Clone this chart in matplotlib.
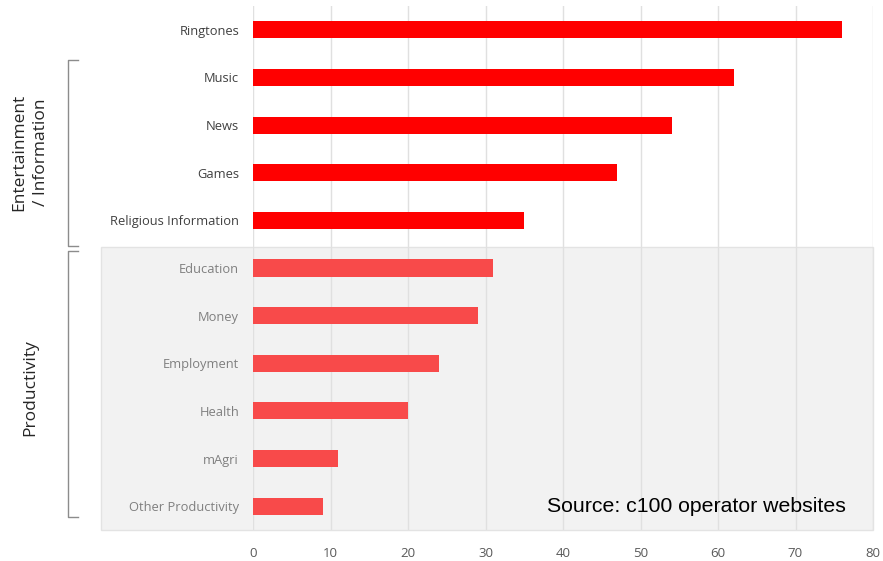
import matplotlib.pyplot as plt
from matplotlib.patches import Rectangle
from matplotlib.lines import Line2D

categories = ['Ringtones', 'Music', 'News', 'Games', 'Religious Information',
              'Education', 'Money', 'Employment', 'Health', 'mAgri', 'Other Productivity']
values = [76, 62, 54, 47, 35, 31, 29, 24, 20, 11, 9]
groups = ['ent', 'ent', 'ent', 'ent', 'ent', 'prod', 'prod', 'prod', 'prod', 'prod', 'prod']
xticks = [0, 10, 20, 30, 40, 50, 60, 70, 80]

W, H = 883, 561
fig = plt.figure(figsize=(W / 100, H / 100), dpi=100)
ax = fig.add_axes([253 / W, 1 - 530 / H, 620 / W, 524 / H])
ax.patch.set_alpha(0)

# shaded productivity block (figure coords)
fig.add_artist(Rectangle((101 / W, 1 - 530 / H), 772 / W, 283 / H,
                         transform=fig.transFigure, facecolor='#f2f2f2',
                         edgecolor='#e3e3e3', lw=1, zorder=0))

ypos = list(range(len(categories)))
colors = ['#ff0000' if g == 'ent' else '#f84a4a' for g in groups]
ax.barh(ypos, values, height=0.36, color=colors, zorder=3)

ax.set_xlim(0, 80)
ax.set_ylim(len(categories) - 0.5, -0.5)
ax.set_xticks(xticks)
ax.set_xticklabels([str(t) for t in xticks])
ax.set_yticks(ypos)
ax.set_yticklabels(categories)
ax.grid(axis='x', color='#e0e0e0', lw=1, zorder=1)
ax.set_axisbelow(True)
for s in ax.spines.values():
    s.set_visible(False)
ax.tick_params(length=0)
ax.tick_params(axis='x', pad=12, labelsize=9.5, labelcolor='#595959')
ax.tick_params(axis='y', pad=10, labelsize=9.3)
for lab, g in zip(ax.get_yticklabels(), groups):
    lab.set_color('#404040' if g == 'ent' else '#7f7f7f')
for lab in ax.get_xticklabels() + ax.get_yticklabels():
    lab.set_family('Open Sans')


def bracket(y0, y1):
    x0, x1 = 68 / W, 78 / W
    fy0, fy1 = 1 - y0 / H, 1 - y1 / H
    fig.add_artist(Line2D([x1, x0, x0, x1], [fy0, fy0, fy1, fy1],
                          transform=fig.transFigure, color='#8c8c8c', lw=1))


bracket(60, 246)
bracket(251, 517)
fig.text(30 / W, 1 - 152 / H, 'Entertainment\n/ Information', rotation=90,
         ha='center', va='center', fontsize=12.5, family='Open Sans',
         color='#262626', linespacing=1.45)
fig.text(30 / W, 1 - 388 / H, 'Productivity', rotation=90, ha='center',
         va='center', fontsize=12.5, family='Open Sans', color='#262626')

ax.text(846 / W, 1 - 506 / H, 'Source: c100 operator websites',
        transform=fig.transFigure, ha='right', va='center', fontsize=15.3,
        family='Liberation Sans', color='black', zorder=5)

fig.savefig('out.png', dpi=100)
